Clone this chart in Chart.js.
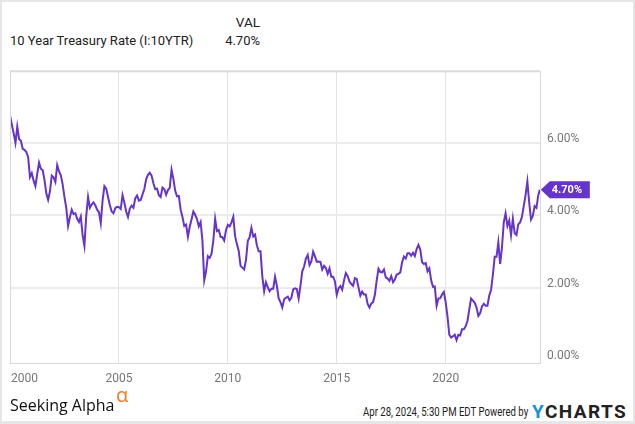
<!DOCTYPE html>
<html>
<head>
<meta charset="utf-8">
<script src="https://cdn.jsdelivr.net/npm/chart.js@4.4.1/dist/chart.umd.min.js"></script>
<style>
  html, body { margin: 0; padding: 0; background: #fff; }
  #frame { position: relative; width: 635px; height: 424px; overflow: hidden; font-family: Roboto, sans-serif; }
  #edge { position: absolute; left: 0; top: 0; right: 0; bottom: 0; border: 2px solid #e6e6e6; border-bottom-width: 3px; pointer-events: none; }
  .txt { position: absolute; white-space: nowrap; line-height: 1; }
  #chart { position: absolute; left: 0; top: 57px; }
</style>
</head>
<body>
<div id="frame">
  <div class="txt" style="right:375px; top:16px; font-size:13.5px; color:#222;">VAL</div>
  <div class="txt" style="left:10px; top:34px; font-size:13px; color:#222;">10 Year Treasury Rate (I:10YTR)</div>
  <div class="txt" style="right:375px; top:34px; font-size:13px; color:#222;">4.70%</div>

  <canvas id="chart" width="635" height="340"></canvas>

  <div class="txt" style="left:10px; top:397px; font-family:'Open Sans',sans-serif; font-size:16px; color:#111;">Seeking Alpha</div>
  <div class="txt" style="left:116px; top:385px; font-family:'Open Sans',sans-serif; font-size:20px; color:#f07a23;">α</div>
  <div class="txt" style="left:363px; top:406px; font-size:12px; color:#222; transform:scaleX(0.8); transform-origin:left top;">Apr 28, 2024, 5:30 PM EDT Powered by</div>
  <div class="txt" style="left:532px; top:402px; font-size:19px; font-weight:bold; letter-spacing:1.4px; color:#222;"><span style="color:#1a8fdc;">Y</span>CHARTS</div>
  <div id="edge"></div>
</div>

<script>
// 10 year treasury rate, one value per month from Jan 2000
const startYear = 2000;
const monthlyRates = [
  6.75, 6.50, 6.26, 5.99, 6.44, 6.10, 6.05, 5.83, 5.80, 5.74, 5.60, 5.05, // 2000
  5.16, 4.95, 4.80, 5.14, 5.45, 5.28, 5.24, 4.97, 4.60, 4.42, 4.65, 5.09, // 2001
  5.04, 4.91, 5.38, 5.21, 5.10, 4.85, 4.50, 4.20, 3.70, 3.94, 4.15, 4.03, // 2002
  4.05, 3.90, 3.81, 3.96, 3.45, 3.15, 3.98, 4.50, 4.20, 4.29, 4.35, 4.27, // 2003
  4.15, 4.08, 3.78, 4.40, 4.80, 4.73, 4.50, 4.28, 4.10, 4.05, 4.19, 4.23, // 2004
  4.22, 4.17, 4.55, 4.34, 4.10, 3.95, 4.18, 4.26, 4.20, 4.46, 4.54, 4.40, // 2005
  4.42, 4.57, 4.72, 4.99, 5.11, 5.17, 5.09, 4.88, 4.72, 4.73, 4.55, 4.50, // 2006
  4.76, 4.72, 4.56, 4.69, 4.75, 5.25, 5.00, 4.67, 4.52, 4.53, 4.15, 3.95, // 2007
  3.70, 3.74, 3.40, 3.68, 3.88, 4.10, 4.01, 3.89, 3.69, 3.81, 3.30, 2.20, // 2008
  2.45, 2.87, 2.82, 2.93, 3.29, 3.90, 3.56, 3.59, 3.40, 3.39, 3.30, 3.59, // 2009
  3.73, 3.69, 3.80, 3.95, 3.42, 3.20, 3.01, 2.60, 2.55, 2.50, 2.76, 3.29, // 2010
  3.39, 3.65, 3.41, 3.46, 3.17, 3.00, 3.00, 2.30, 1.90, 2.15, 2.01, 1.90, // 2011
  1.97, 1.97, 2.30, 2.05, 1.70, 1.60, 1.45, 1.68, 1.72, 1.75, 1.65, 1.72, // 2012
  1.95, 1.98, 1.96, 1.70, 2.05, 2.45, 2.58, 2.80, 2.90, 2.62, 2.72, 2.99, // 2013
  2.86, 2.71, 2.72, 2.71, 2.50, 2.60, 2.54, 2.38, 2.53, 2.30, 2.30, 2.17, // 2014
  1.80, 1.98, 2.04, 1.94, 2.20, 2.40, 2.32, 2.17, 2.10, 2.05, 2.26, 2.24, // 2015
  2.00, 1.78, 1.89, 1.81, 1.81, 1.55, 1.45, 1.56, 1.60, 1.80, 2.20, 2.52, // 2016
  2.43, 2.42, 2.50, 2.28, 2.25, 2.19, 2.32, 2.15, 2.22, 2.36, 2.38, 2.42, // 2017
  2.70, 2.86, 2.80, 2.95, 2.95, 2.88, 2.96, 2.87, 3.06, 3.18, 3.05, 2.70, // 2018
  2.65, 2.68, 2.45, 2.53, 2.20, 2.02, 2.03, 1.50, 1.70, 1.71, 1.81, 1.88, // 2019
  1.60, 1.20, 0.70, 0.62, 0.66, 0.70, 0.55, 0.70, 0.68, 0.85, 0.85, 0.93, // 2020
  1.08, 1.40, 1.70, 1.64, 1.58, 1.45, 1.22, 1.30, 1.48, 1.55, 1.50, 1.50, // 2021
  1.78, 1.93, 2.35, 2.85, 2.85, 3.25, 2.65, 3.10, 3.80, 4.05, 3.70, 3.85, // 2022
  3.45, 3.90, 3.50, 3.45, 3.75, 3.80, 3.95, 4.25, 4.55, 4.93, 4.35, 3.88, // 2023
  3.98, 4.25, 4.20, 4.55                                                   // 2024
];
const lastDate = 2024.32;   // Apr 28, 2024
const lastValue = 4.70;

const tickYears = [2000, 2005, 2010, 2015, 2020];
const yTicks = [0, 2, 4, 6];

const lineColor = '#6633cc';

// build {x, y} points for the linear time axis
const points = monthlyRates.map((v, i) => ({ x: startYear + i / 12, y: v }));
points.push({ x: lastDate, y: lastValue });

// draws the x labels (first one kept inside the plot) and the last value flag
const overlayPlugin = {
  id: 'overlay',
  afterDraw(chart) {
    const ctx = chart.ctx;
    const xs = chart.scales.x;
    const ys = chart.scales.y;
    const area = chart.chartArea;

    ctx.save();
    // plot frame
    ctx.strokeStyle = '#d9d9d9';
    ctx.lineWidth = 1;
    ctx.strokeRect(area.left + 0.5, area.top + 0.5, area.right - area.left, area.bottom - area.top);
    ctx.fillStyle = '#dcdcdc';
    ctx.fillRect(area.left, area.top - 1, area.right - area.left, 2);

    // x labels
    ctx.font = '12px Roboto';
    ctx.fillStyle = '#777';
    ctx.textBaseline = 'middle';
    ctx.textAlign = 'left';
    tickYears.forEach(yr => {
      const px = xs.getPixelForValue(yr);
      const w = ctx.measureText(String(yr)).width;
      const x = Math.max(px - w / 2, area.left + 1);
      ctx.fillText(String(yr), x, area.bottom + 16);
    });

    // last value flag
    const fx = xs.getPixelForValue(lastDate) + 1;
    const fy = ys.getPixelForValue(lastValue);
    ctx.fillStyle = lineColor;
    ctx.beginPath();
    ctx.moveTo(fx, fy);
    ctx.lineTo(fx + 9, fy - 8.5);
    ctx.lineTo(fx + 49, fy - 8.5);
    ctx.lineTo(fx + 49, fy + 8.5);
    ctx.lineTo(fx + 9, fy + 8.5);
    ctx.closePath();
    ctx.fill();
    ctx.fillStyle = '#fff';
    ctx.font = 'bold 11px Roboto';
    ctx.fillText(lastValue.toFixed(2) + '%', fx + 11, fy + 0.5);
    ctx.restore();
  }
};

new Chart(document.getElementById('chart'), {
  type: 'line',
  data: {
    datasets: [{
      data: points,
      borderColor: lineColor,
      borderWidth: 2,
      pointRadius: 0,
      tension: 0,
      fill: false
    }]
  },
  options: {
    responsive: false,
    devicePixelRatio: 1,
    animation: false,
    layout: { padding: { left: 10, top: 2, right: 0, bottom: 0 } },
    plugins: { legend: { display: false }, tooltip: { enabled: false } },
    scales: {
      x: {
        type: 'linear',
        min: 2000,
        max: 2024.33,
        afterBuildTicks: scale => { scale.ticks = tickYears.map(v => ({ value: v })); },
        afterFit: scale => { scale.height = 34; },
        grid: { color: '#e4e4e4', drawTicks: false },
        border: { display: false },
        ticks: { display: false }
      },
      y: {
        position: 'right',
        min: -0.08,
        max: 7.97,
        afterBuildTicks: scale => { scale.ticks = yTicks.map(v => ({ value: v })); },
        afterFit: scale => { scale.width = 95; },
        grid: {
          color: ctx => (ctx.tick && ctx.tick.value === 0) ? 'rgba(0,0,0,0)' : '#ececec',
          lineWidth: 2,
          drawTicks: false
        },
        border: { display: false },
        ticks: {
          padding: 7,
          labelOffset: -4,
          color: '#777',
          font: { family: 'Roboto', size: 12 },
          callback: v => v.toFixed(2) + '%'
        }
      }
    }
  },
  plugins: [overlayPlugin]
});
</script>
</body>
</html>
